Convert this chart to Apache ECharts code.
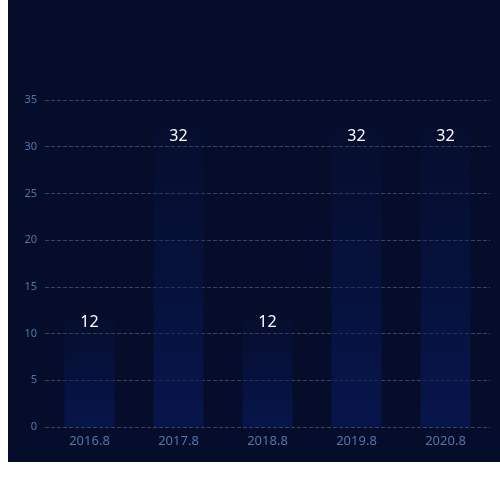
<!DOCTYPE html>
<html><head><meta charset="utf-8">
<script src="https://cdn.jsdelivr.net/npm/echarts@6/dist/echarts.min.js"></script>
<style>html,body{margin:0;background:#fff}#c{position:absolute;left:8px;top:0;width:492px;height:462px;background:#050d2b}</style>
</head><body><div id="c"></div>
<script>
var categories = ['2016.8', '2017.8', '2018.8', '2019.8', '2020.8'];
var values = [12, 32, 12, 32, 32];
var myChart = echarts.init(document.getElementById('c'));
var option = {
  textStyle: { fontFamily: 'Noto Sans, sans-serif' },
  grid: { left: 37, right: 10, top: 100, bottom: 35 },
  xAxis: {
    type: 'category', data: categories,
    axisLine: { show: false }, axisTick: { show: false },
    axisLabel: { color: '#4f77a8', fontSize: 13, margin: 8 }
  },
  yAxis: {
    type: 'value', min: 0, max: 35, interval: 5,
    axisLine: { show: false }, axisTick: { show: false },
    axisLabel: { color: '#4f77a8', fontSize: 11 },
    splitLine: { lineStyle: { color: '#3a4560', type: 'dashed' } }
  },
  series: [{
    type: 'bar', data: values, barWidth: 50,
    itemStyle: {
      color: new echarts.graphic.LinearGradient(0, 0, 0, 1, [
        { offset: 0, color: 'rgba(10,25,80,0.1)' },
        { offset: 1, color: 'rgba(8,25,90,0.7)' }
      ])
    },
    label: { show: true, position: 'insideTop', color: '#fff', fontSize: 16, distance: 0 }
  }]
};
myChart.setOption(option);
</script></body></html>
